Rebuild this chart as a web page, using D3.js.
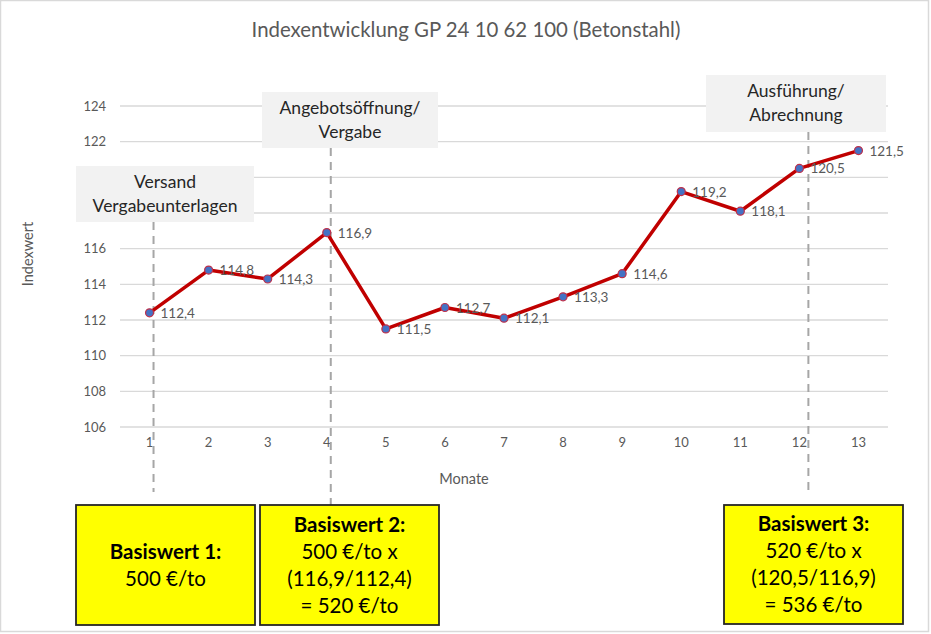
<!DOCTYPE html>
<html><head><meta charset="utf-8">
<script src="https://cdn.jsdelivr.net/npm/d3@7"></script>
<style>
html,body{margin:0;padding:0;background:#fff;}
svg{display:block;font-family:Lato,"Open Sans",sans-serif;}
</style></head>
<body>
<svg id="chart" width="931" height="634"></svg>
<script>
const months = ["1","2","3","4","5","6","7","8","9","10","11","12","13"];
const values = [112.4,114.8,114.3,116.9,111.5,112.7,112.1,113.3,114.6,119.2,118.1,120.5,121.5];
const yTicks = [106,108,110,112,114,116,118,120,122,124];
const hiddenTickLabels = [118,120]; // covered by the "Versand" box in the reference
const title = "Indexentwicklung GP 24 10 62 100 (Betonstahl)";
const phaseMonths = ["1","4","12"];
const phaseLabels = [["Versand","Vergabeunterlagen"],["Angebotsöffnung/","Vergabe"],["Ausführung/","Abrechnung"]];
const baseTexts = [
  ["Basiswert 1:","500 €/to"],
  ["Basiswert 2:","500 €/to x","(116,9/112,4)","= 520 €/to"],
  ["Basiswert 3:","520 €/to x","(120,5/116,9)","= 536 €/to"]
];

const svg = d3.select("#chart");
const fmt = v => d3.format(".1f")(v).replace(".", ",");

// frame
svg.append("rect").attr("x",0.5).attr("y",0.5).attr("width",928).attr("height",631)
  .attr("fill","#fff").attr("stroke","#d9d9d9").attr("stroke-width",1.5);

const x = d3.scaleBand().domain(months).range([120,888]);
const y = d3.scaleLinear().domain([106,124]).range([427,106]);
const cx = m => x(m) + x.bandwidth()/2;

// title
svg.append("text").attr("x",466).attr("y",37).attr("text-anchor","middle")
  .attr("font-size",20.4).attr("fill","#595959").text(title);

// gridlines
svg.append("g").selectAll("line").data(yTicks).join("line")
  .attr("x1",120).attr("x2",888).attr("y1",d=>y(d)).attr("y2",d=>y(d))
  .attr("stroke","#d9d9d9").attr("stroke-width",1.3);

// y axis
const yAxis = d3.axisLeft(y).tickValues(yTicks).tickSize(0).tickPadding(14).tickFormat(d=>d);
const gy = svg.append("g").attr("transform","translate(120,0)").call(yAxis);
gy.select(".domain").remove();
gy.selectAll(".tick").filter(d=>hiddenTickLabels.includes(d)).select("text").remove();
gy.selectAll("text").attr("font-size",13).attr("fill","#595959").attr("font-family","Lato,sans-serif");

// x axis
const xAxis = d3.axisBottom(x).tickSize(0).tickPadding(11);
const gx = svg.append("g").attr("transform","translate(0,427)").call(xAxis);
gx.select(".domain").remove();
gx.selectAll("text").attr("font-size",13).attr("fill","#595959").attr("font-family","Lato,sans-serif");

// axis titles
svg.append("text").attr("x",464).attr("y",484).attr("text-anchor","middle")
  .attr("font-size",14.5).attr("fill","#595959").text("Monate");
svg.append("text").attr("transform","translate(33,254) rotate(-90)").attr("text-anchor","middle")
  .attr("font-size",14.5).attr("fill","#595959").text("Indexwert");

// phase boxes and dashed lines
const phaseBoxes = [
  {x:76,y:166,w:178,h:56, lineTop:222, lineBottom:492, off:4},
  {x:262,y:92,w:176,h:56, lineTop:148, lineBottom:505, off:4},
  {x:706,y:75,w:180,h:57, lineTop:132, lineBottom:495, off:9}
];
phaseBoxes.forEach((b,i)=>{
  const lx = cx(phaseMonths[i]) + b.off;
  svg.append("line").attr("x1",lx).attr("x2",lx).attr("y1",b.lineTop).attr("y2",b.lineBottom)
    .attr("stroke","#a6a6a6").attr("stroke-width",2).attr("stroke-dasharray","8,6");
  svg.append("rect").attr("x",b.x).attr("y",b.y).attr("width",b.w).attr("height",b.h)
    .attr("fill","#f2f2f2");
  const t = svg.append("text").attr("text-anchor","middle").attr("font-size",17.5).attr("fill","#262626");
  phaseLabels[i].forEach((s,j)=>{
    t.append("tspan").attr("x",b.x+b.w/2).attr("y",b.y+22+j*24).text(s);
  });
});

// line
const line = d3.line().x((d,i)=>cx(months[i])).y(d=>y(d));
svg.append("path").datum(values).attr("d",line).attr("fill","none")
  .attr("stroke","#c00000").attr("stroke-width",3.5).attr("stroke-linejoin","round");

// markers
svg.append("g").selectAll("circle").data(values).join("circle")
  .attr("cx",(d,i)=>cx(months[i])).attr("cy",d=>y(d)).attr("r",4)
  .attr("fill","#4472c4").attr("stroke","#c0304a").attr("stroke-width",1.2);

// data labels
svg.append("g").selectAll("text").data(values).join("text")
  .attr("x",(d,i)=>cx(months[i])+11).attr("y",d=>y(d)+5)
  .attr("font-size",13.5).attr("fill","#595959").text(d=>fmt(d));

// yellow base boxes
const baseBoxes = [
  {x:76,y:505,w:179,h:120},
  {x:260,y:505,w:179,h:120},
  {x:724,y:505,w:179,h:119}
];
baseBoxes.forEach((b,i)=>{
  svg.append("rect").attr("x",b.x).attr("y",b.y).attr("width",b.w).attr("height",b.h)
    .attr("fill","#ffff00").attr("stroke","#262626").attr("stroke-width",1.8);
  const lines = baseTexts[i];
  const lh = 27;
  const startY = b.y + b.h/2 - (lines.length-1)*lh/2 + 7;
  const t = svg.append("text").attr("text-anchor","middle").attr("font-size",20.5).attr("fill","#000");
  lines.forEach((s,j)=>{
    t.append("tspan").attr("x",b.x+b.w/2).attr("y",startY+j*lh)
      .attr("font-weight",j===0?"bold":"normal").text(s);
  });
});
</script>
</body></html>
